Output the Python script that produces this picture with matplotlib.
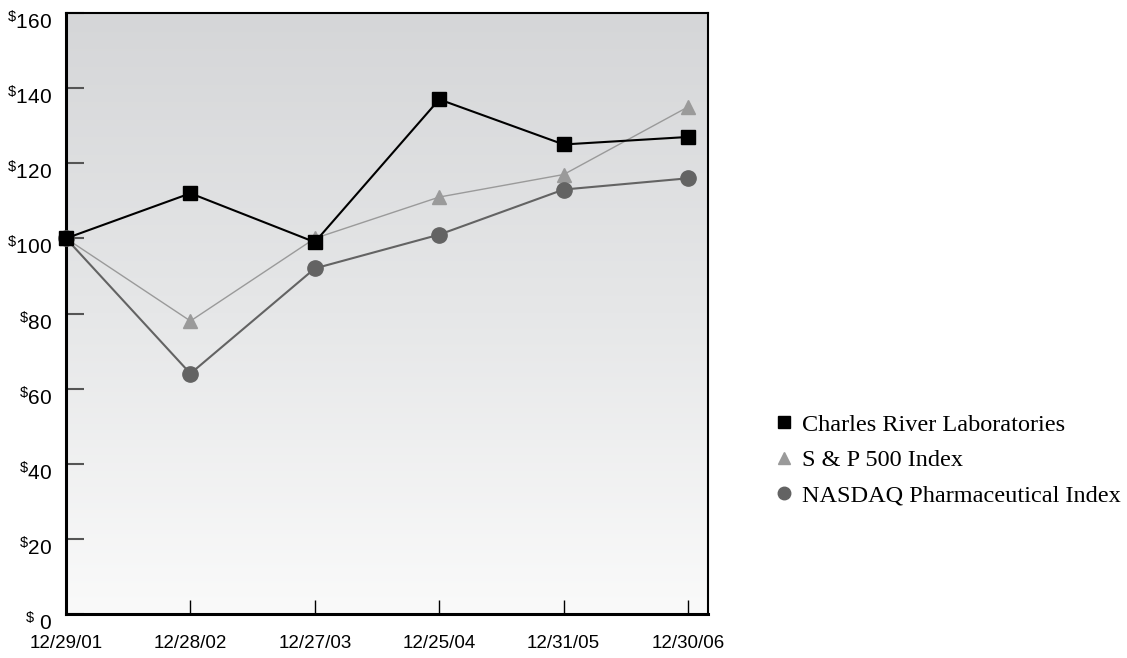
import numpy as np
import matplotlib
matplotlib.use("Agg")
import matplotlib.pyplot as plt
import matplotlib.transforms as mtrans
from matplotlib.colors import LinearSegmentedColormap
from matplotlib.lines import Line2D

dates = ["12/29/01", "12/28/02", "12/27/03", "12/25/04", "12/31/05", "12/30/06"]
charles_river = [100, 112, 99, 137, 125, 127]
sp500 = [100, 78, 100, 111, 117, 135]
nasdaq_pharma = [100, 64, 92, 101, 113, 116]
y_ticks = [0, 20, 40, 60, 80, 100, 120, 140, 160]

sans = "Liberation Sans"
plt.rcParams["mathtext.fontset"] = "custom"
plt.rcParams["mathtext.rm"] = sans
plt.rcParams["mathtext.it"] = sans
plt.rcParams["mathtext.bf"] = sans

fig = plt.figure(figsize=(11.27, 6.58), dpi=100)
ax = fig.add_axes([66/1127, 44/658, 642/1127, 601/658])

grad = np.linspace(0, 1, 256).reshape(-1, 1)
cmap = LinearSegmentedColormap.from_list("g", ["#d5d6d8", "#e6e7e8", "#fafafa"])
ax.imshow(grad, aspect="auto", cmap=cmap, extent=[0, 1, 0, 1], origin="upper",
          transform=ax.transAxes, zorder=0)

x = np.arange(len(dates))
ax.plot(x, sp500, color="#9a9a9a", lw=1.0, marker="^", ms=10, mec="#9a9a9a", mfc="#9a9a9a", zorder=3, clip_on=False)
ax.plot(x, nasdaq_pharma, color="#636363", lw=1.5, marker="o", ms=11, mec="#636363", mfc="#636363", zorder=4, clip_on=False)
ax.plot(x, charles_river, color="black", lw=1.5, marker="s", ms=10, mec="black", mfc="black", zorder=5, clip_on=False)

ax.set_xlim(0, 5.16)
ax.set_ylim(0, 160)

for s in ["left", "bottom"]:
    ax.spines[s].set_linewidth(2.2)
for s in ["top", "right"]:
    ax.spines[s].set_linewidth(1.5)

ax.set_yticks(y_ticks)
labels = []
for v in y_ticks:
    if v == 0:
        labels.append(r"$^{\$}\ \mathrm{0}$")
    else:
        labels.append(r"$^{\$}\mathrm{%d}$" % v)
ax.set_yticklabels(labels, fontsize=15)
ax.tick_params(axis="y", direction="in", length=13, width=1.5, color="#555555", pad=10)
off = mtrans.ScaledTranslation(0, -5/72, fig.dpi_scale_trans)
for lab in ax.get_yticklabels():
    lab.set_transform(lab.get_transform() + off)

ax.set_xticks(x)
ax.set_xticklabels(dates, fontsize=13.5, family=sans)
ax.tick_params(axis="x", direction="in", length=10, width=1.0, color="black", pad=15)

items = [("s", "black", 9, "Charles River Laboratories"),
         ("^", "#9a9a9a", 9, "S & P 500 Index"),
         ("o", "#636363", 9, "NASDAQ Pharmaceutical Index")]
handles = [Line2D([], [], ls="none", marker=m, color=c, ms=ms) for m, c, ms, _ in items]
fig.legend(handles, [t for *_, t in items], loc="center left", bbox_to_anchor=(756/1127, 1 - 460/658),
           frameon=False, handlelength=0.5, handletextpad=0.5, labelspacing=0.55,
           prop={"family": "Liberation Serif", "size": 17.5})

fig.savefig("out.png", dpi=100)
